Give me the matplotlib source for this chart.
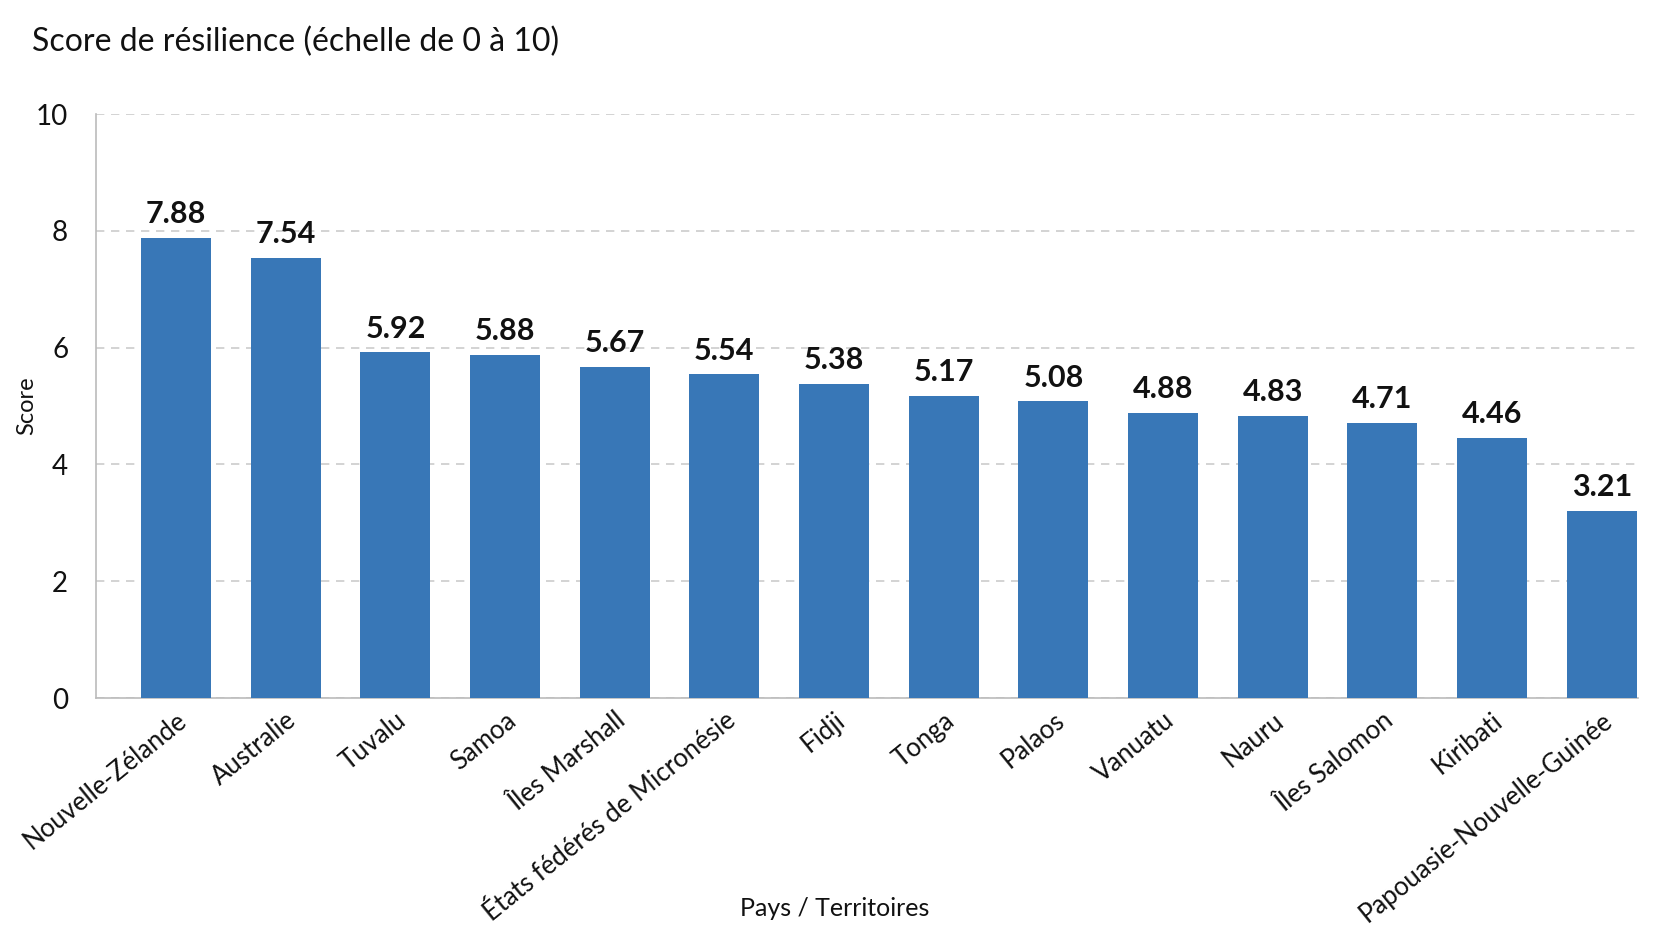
import matplotlib
matplotlib.use("Agg")
import matplotlib.pyplot as plt

plt.rcParams["font.family"] = ["Lato", "DejaVu Sans"]

# données
pays = ["Nouvelle-Zélande", "Australie", "Tuvalu", "Samoa", "Îles Marshall",
        "États fédérés de Micronésie", "Fidji", "Tonga", "Palaos", "Vanuatu",
        "Nauru", "Îles Salomon", "Kiribati", "Papouasie-Nouvelle-Guinée"]
scores = [7.88, 7.54, 5.92, 5.88, 5.67, 5.54, 5.38, 5.17, 5.08, 4.88,
          4.83, 4.71, 4.46, 3.21]
yticks = [0, 2, 4, 6, 8, 10]

fig = plt.figure(figsize=(16.6, 9.47), dpi=100)
ax = fig.add_axes([0.0578, 0.2629, 0.9289, 0.6167])

x = range(len(pays))
bars = ax.bar(x, scores, width=0.64, color="#3877b7", zorder=3)

# valeurs au-dessus des barres
for b, v in zip(bars, scores):
    ax.annotate(f"{v:.2f}", (b.get_x() + b.get_width() / 2, v),
                xytext=(0, 7), textcoords="offset points",
                ha="center", va="bottom", fontsize=22, fontweight="bold",
                color="#111111")

ax.set_xlim(-0.73, 13.33)
ax.set_ylim(0, 10)
ax.set_yticks(yticks)
ax.set_yticklabels([str(t) for t in yticks], fontsize=20, color="#111111")
ax.set_xticks(list(x))
ax.set_xticklabels(pays, rotation=39, ha="right", rotation_mode="anchor",
                   fontsize=18.5, color="#111111")
ax.tick_params(axis="both", length=0)
ax.tick_params(axis="x", pad=7)
ax.tick_params(axis="y", pad=20)

ax.grid(axis="y", linestyle=(0, (5, 4)), color="#cccccc", linewidth=1.2, zorder=0)
for s in ["top", "right"]:
    ax.spines[s].set_visible(False)
for s in ["left", "bottom"]:
    ax.spines[s].set_color("#bbbbbb")
    ax.spines[s].set_linewidth(1.2)

ax.set_ylabel("Score", fontsize=17, color="#111111")
ax.yaxis.set_label_coords(-0.038, 0.5)
fig.text(0.503, 0.041, "Pays / Territoires", ha="center", va="center",
         fontsize=18, color="#111111")
fig.text(0.019, 0.956, "Score de résilience (échelle de 0 à 10)",
         ha="left", va="center", fontsize=23, color="#111111")

fig.savefig("out.png", dpi=100, facecolor="white")
